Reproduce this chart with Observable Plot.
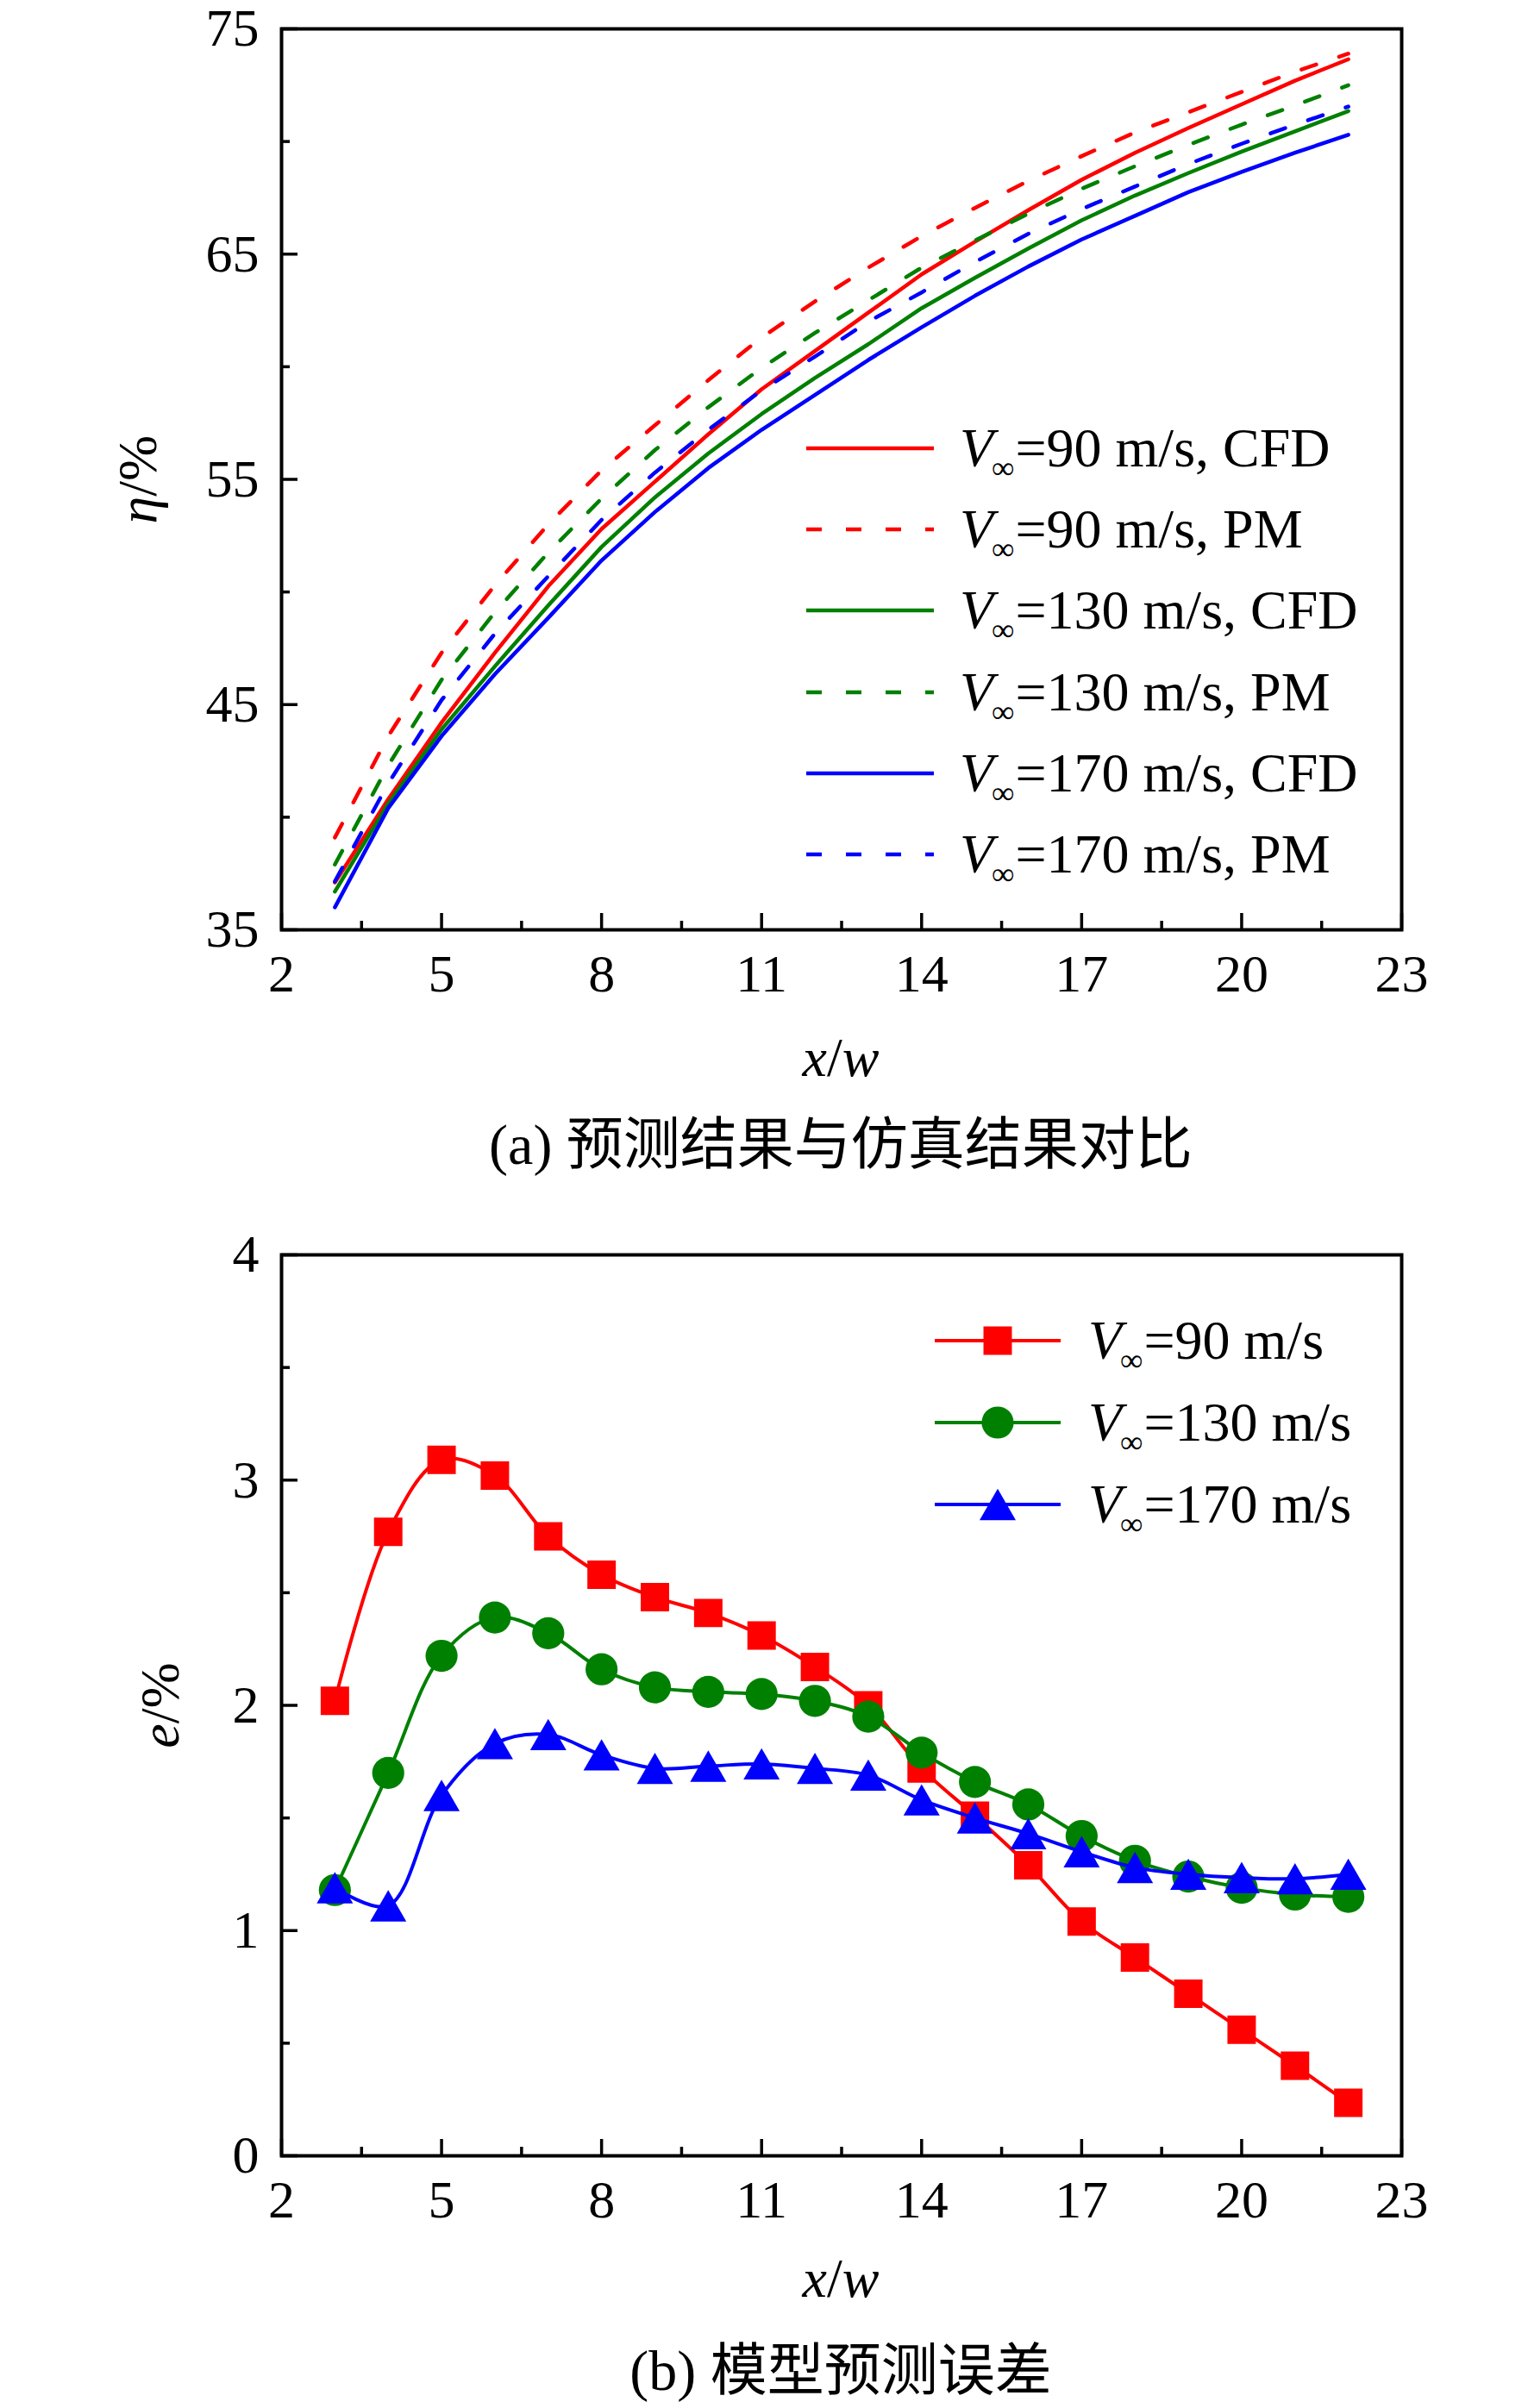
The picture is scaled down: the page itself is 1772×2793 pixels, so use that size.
<!DOCTYPE html>
<html><head><meta charset="utf-8">
<script src="https://cdn.jsdelivr.net/npm/d3@7"></script>
<script src="https://cdn.jsdelivr.net/npm/@observablehq/plot@0.6"></script>
<style>
body{margin:0;background:#fff;}
#page{position:relative;width:1772px;height:2793px;background:#fff;font-family:"Liberation Serif","Times New Roman",serif;color:#000;overflow:hidden}
.abs{position:absolute;white-space:nowrap;line-height:1}
.center{transform:translate(-50%,-50%)}
.rot{transform:translate(-50%,-50%) rotate(-90deg)}
.cap{font-size:66px;font-family:"Liberation Serif","Noto Sans CJK SC",serif}
.lab{font-size:64px}
.leg{position:absolute;display:flex;align-items:center;height:80px;font-size:64px;white-space:nowrap;line-height:1}
.leg .sub{font-size:37px;position:relative;top:14px;margin-left:-2px;margin-right:1px}
.leg svg{display:block;overflow:visible}
</style></head>
<body><div id="page"><div id="chartA" class="abs" style="left:0;top:0"></div><div id="chartB" class="abs" style="left:0;top:1400px"></div></div>
<script>
// ---------- data ----------
const xw = [3,4,5,6,7,8,9,10,11,12,13,14,15,16,17,18,19,20,21,22];

// (a) efficiency eta (%)
const cfd90  = [37.1,40.8,44.2,47.3,50.25,52.8,54.9,57.0,59.0,60.7,62.4,64.1,65.55,66.95,68.3,69.5,70.6,71.65,72.7,73.65];
const pm90   = [39.1,43.6,47.3,50.3,53.0,55.4,57.4,59.4,61.3,62.9,64.4,65.8,67.05,68.25,69.35,70.4,71.3,72.2,73.1,73.9];
const cfd130 = [36.7,40.6,43.9,46.7,49.4,52.0,54.2,56.15,57.9,59.5,61.0,62.6,63.95,65.25,66.5,67.6,68.6,69.55,70.45,71.35];
const pm130  = [37.9,42.3,46.1,49.1,51.75,54.15,56.3,58.2,59.95,61.5,62.95,64.4,65.6,66.8,67.9,68.9,69.85,70.75,71.6,72.5];
const cfd170 = [36.0,40.4,43.6,46.35,48.85,51.4,53.55,55.5,57.2,58.75,60.3,61.75,63.15,64.45,65.65,66.7,67.75,68.65,69.5,70.3];
const pm170  = [37.15,41.5,45.2,48.15,50.7,53.2,55.3,57.2,58.95,60.45,62.0,63.3,64.65,65.9,67.0,68.0,69.0,69.9,70.75,71.55];

// (b) prediction error e (%)
const e90  = [2.02,2.77,3.09,3.02,2.75,2.58,2.48,2.41,2.31,2.17,2.00,1.72,1.51,1.29,1.04,0.88,0.72,0.56,0.40,0.235];
const e130 = [1.18,1.70,2.22,2.39,2.32,2.16,2.08,2.06,2.05,2.02,1.95,1.79,1.66,1.56,1.42,1.31,1.24,1.19,1.16,1.15];
const e170 = [1.19,1.11,1.60,1.83,1.87,1.78,1.72,1.73,1.74,1.72,1.69,1.58,1.50,1.43,1.35,1.28,1.25,1.235,1.23,1.25];

const xTicks  = [2,5,8,11,14,17,20,23];
const xMinor  = [3.5,6.5,9.5,12.5,15.5,18.5,21.5];
const yTicksA = [35,45,55,65,75];
const yMinorA = [40,50,60,70];
const yTicksB = [0,1,2,3,4];
const yMinorB = [0.5,1.5,2.5,3.5];

const speeds = ["90","130","170"];
const colors = ["#ff0000","#008000","#0000ff"];
const symbols = ["square","circle","triangle"];

// ---------- layout ----------
const W = 1772, ML = 326, MR = 147, H = 1180;
const frameW = W - ML - MR;
const rows = ys => xw.map((x,i) => ({x, y: ys[i]}));
const font = '"Liberation Serif","Times New Roman",serif';
const fmt = d => String(d);

function frameMarks(yTicks, yMinor, frameH){
  const tk = {stroke:"black", strokeWidth:3.5};
  return [
    Plot.tickX(xTicks, {x:d=>d, insetTop: frameH-19, ...tk}),
    Plot.tickX(xMinor, {x:d=>d, insetTop: frameH-10, ...tk}),
    Plot.tickY(yTicks, {y:d=>d, insetRight: frameW-19, ...tk}),
    Plot.tickY(yMinor, {y:d=>d, insetRight: frameW-10, ...tk}),
    Plot.axisX({ticks:xTicks, tickFormat: fmt, tickSize:0, tickPadding:27, label:null, fontSize:62, fontFamily:font}),
    Plot.axisY({ticks:yTicks, tickFormat: fmt, tickSize:0, tickPadding:26, label:null, fontSize:62, fontFamily:font}),
    Plot.frame({stroke:"black", strokeWidth:4})
  ];
}

const DASH = "18,28";
const seriesA = [
  [cfd90, 0, null], [pm90, 0, DASH],
  [cfd130, 1, null], [pm130, 1, DASH],
  [cfd170, 2, null], [pm170, 2, DASH]
];

const chartA = Plot.plot({
  width: W, height: H, marginLeft: ML, marginRight: MR, marginTop: 33, marginBottom: H-33-1045,
  x: {domain: [2,23]}, y: {domain: [35,75]},
  style: {fontFamily: font, fontSize: "62px", background: "transparent", overflow: "visible"},
  marks: [
    ...seriesA.map(([ys, c, dash]) => Plot.line(rows(ys), {x:"x", y:"y", stroke: colors[c], strokeWidth: 4.5, strokeDasharray: dash ?? undefined})),
    ...frameMarks(yTicksA, yMinorA, 1045)
  ]
});
document.getElementById("chartA").append(chartA);

const seriesB = [e90, e130, e170];
const chartB = Plot.plot({
  width: W, height: H, marginLeft: ML, marginRight: MR, marginTop: 55, marginBottom: H-55-1045,
  x: {domain: [2,23]}, y: {domain: [0,4]},
  style: {fontFamily: font, fontSize: "62px", background: "transparent", overflow: "visible"},
  marks: [
    ...seriesB.flatMap((ys, c) => [
      Plot.line(rows(ys), {x:"x", y:"y", stroke: colors[c], strokeWidth: 4, curve: "catmull-rom"}),
      Plot.dot(rows(ys), {x:"x", y:"y", symbol: symbols[c], r: c===2 ? 15.6 : 18.6, dy: c===2 ? 6 : 0, fill: colors[c], stroke: "none"})
    ]),
    ...frameMarks(yTicksB, yMinorB, 1045)
  ]
});
document.getElementById("chartB").append(chartB);

// ---------- text & legends ----------
const page = document.getElementById("page");
function addDiv(html, cls, left, top){
  const d = document.createElement("div");
  d.className = cls; d.innerHTML = html;
  d.style.left = left + "px"; d.style.top = top + "px";
  page.append(d); return d;
}
addDiv('<i>η</i>/%', "abs rot lab", 160, 556);
addDiv('<i>x</i>/<i>w</i>', "abs center lab", 975, 1227);
addDiv('(a) 预测结果与仿真结果对比', "abs center cap", 975, 1328);
addDiv('<i>e</i>/%', "abs rot lab", 186, 1978);
addDiv('<i>x</i>/<i>w</i>', "abs center lab", 975, 2643);
addDiv('(b) 模型预测误差', "abs center cap", 975, 2750);

const vText = s => '<i>V</i><span class="sub">∞</span>=' + s;

// legend (a)
seriesA.forEach(([ys, c, dash], i) => {
  const y = 520 + i*94.2;
  const label = speeds[c] + " m/s, " + (dash ? "PM" : "CFD");
  const svg = `<svg width="148" height="20"><line x1="0" y1="10" x2="148" y2="10" stroke="${colors[c]}" stroke-width="4.5" ${dash ? `stroke-dasharray="${dash}"` : ""}/></svg>`;
  addDiv(svg + `<span style="margin-left:30px">${vText(label)}</span>`, "leg", 935, y - 40);
});

// legend (b)
seriesB.forEach((ys, c) => {
  const y = 1555 + c*95;
  const sym = d3.symbol(d3["symbol" + symbols[c][0].toUpperCase() + symbols[c].slice(1)], Math.PI * (c===2 ? 15.6 : 18.6) ** 2)();
  const svg = `<svg width="146" height="20"><line x1="0" y1="10" x2="146" y2="10" stroke="${colors[c]}" stroke-width="4"/><path d="${sym}" transform="translate(73,${10 + (c===2 ? 6 : 0)})" fill="${colors[c]}"/></svg>`;
  addDiv(svg + `<span style="margin-left:32px">${vText(speeds[c] + " m/s")}</span>`, "leg", 1084, y - 40);
});
</script></body></html>
